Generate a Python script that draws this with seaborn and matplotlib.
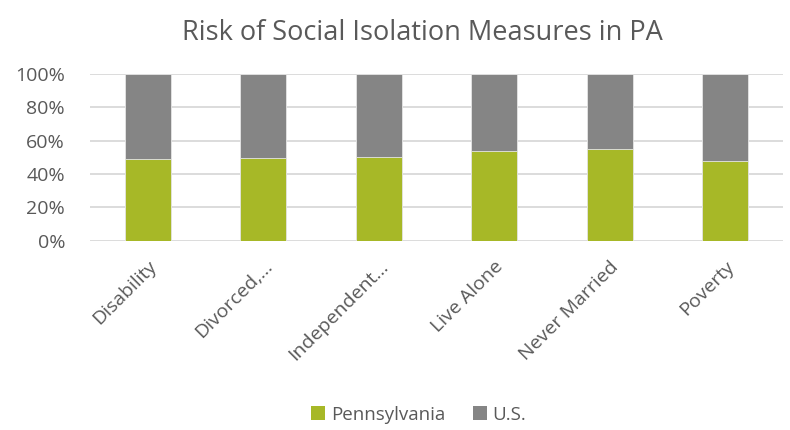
import matplotlib
matplotlib.use("Agg")
import matplotlib.pyplot as plt
import seaborn as sns
import pandas as pd
from matplotlib.patches import Patch
from matplotlib.ticker import PercentFormatter

categories = ["Disability", "Divorced,...", "Independent...", "Live Alone", "Never Married", "Poverty"]
pennsylvania = [48.9, 49.9, 50.5, 53.7, 54.9, 47.9]
us = [100 - v for v in pennsylvania]
series_names = ["Pennsylvania", "U.S."]
colors = ["#A7B827", "#858585"]

df = pd.DataFrame({"cat": categories, "pa": pennsylvania, "us": us})
df["total"] = df["pa"] + df["us"]

sns.set_theme(style="white")
plt.rcParams["font.family"] = ["Open Sans", "DejaVu Sans"]

fig = plt.figure(figsize=(7.9, 4.3), dpi=100)
ax = fig.add_axes([0.114, 0.44, 0.877, 0.388])

sns.barplot(data=df, x="cat", y="total", color=colors[1], width=0.4, ax=ax, saturation=1,
            zorder=3, edgecolor="#E6E6E6", linewidth=0.6)
sns.barplot(data=df, x="cat", y="pa", color=colors[0], width=0.4, ax=ax, saturation=1,
            zorder=4, edgecolor="#E6E6E6", linewidth=0.6)

ax.set_ylim(0, 100)
ax.set_yticks([0, 20, 40, 60, 80, 100])
ax.yaxis.set_major_formatter(PercentFormatter(decimals=0))
ax.yaxis.grid(True, color="#D9D9D9", linewidth=1.3, zorder=0)
ax.set_axisbelow(True)
for s in ["top", "right", "left", "bottom"]:
    ax.spines[s].set_visible(False)
ax.set_xlim(-0.5, 5.5)
ax.set_xlabel("")
ax.set_ylabel("")
ax.tick_params(axis="both", length=0, colors="#595959", labelsize=14)
ax.tick_params(axis="y", pad=18)
ax.tick_params(axis="x", pad=12)
plt.setp(ax.get_xticklabels(), rotation=45, ha="right", rotation_mode="anchor")

fig.suptitle("Risk of Social Isolation Measures in PA", x=0.535, y=0.955, fontsize=19.5, color="#595959")

handles = [Patch(facecolor=c, edgecolor="none") for c in colors]
fig.legend(handles, series_names, loc="lower center", bbox_to_anchor=(0.53, -0.025), ncol=2,
           frameon=False, fontsize=13.5, labelcolor="#595959", handlelength=0.75, handleheight=0.75,
           handletextpad=0.3, columnspacing=1.5)

fig.savefig("out.png", dpi=100)
